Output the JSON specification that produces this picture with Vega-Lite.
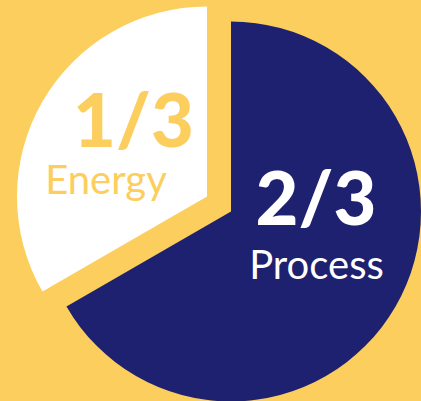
{
  "$schema": "https://vega.github.io/schema/vega-lite/v6.json",
  "width": 421,
  "height": 401,
  "autosize": {"type": "fit", "contains": "padding"},
  "padding": 0,
  "background": "#FCCE5D",
  "view": {"stroke": null},
  "data": {"values": [
    {"part": "Process", "value": 2, "fraction": "2/3"},
    {"part": "Energy", "value": 1, "fraction": "1/3"}
  ]},
  "layer": [
    {
      "mark": {"type": "arc", "radius": 190, "xOffset": 20.5, "yOffset": 11.5},
      "encoding": {
        "theta": {"field": "value", "type": "quantitative", "stack": true},
        "order": {"field": "value", "type": "quantitative", "sort": "descending"},
        "color": {"field": "part", "type": "nominal", "scale": {"domain": ["Process", "Energy"], "range": ["#1E2170", "#FFFFFF"]}, "legend": null},
        "opacity": {"condition": {"test": "datum.part === 'Process'", "value": 1}, "value": 0}
      }
    },
    {
      "mark": {"type": "arc", "radius": 190, "xOffset": -3.5, "yOffset": -3.5},
      "encoding": {
        "theta": {"field": "value", "type": "quantitative", "stack": true},
        "order": {"field": "value", "type": "quantitative", "sort": "descending"},
        "color": {"field": "part", "type": "nominal", "scale": {"domain": ["Process", "Energy"], "range": ["#1E2170", "#FFFFFF"]}, "legend": null},
        "opacity": {"condition": {"test": "datum.part === 'Energy'", "value": 1}, "value": 0}
      }
    },
    {
      "transform": [{"filter": "datum.part === 'Energy'"}],
      "mark": {"type": "text", "x": 133.5, "y": 147, "align": "center", "baseline": "alphabetic", "font": "Lato", "fontWeight": 900, "fontSize": 74, "color": "#FCCE5D"},
      "encoding": {"text": {"field": "fraction"}}
    },
    {
      "transform": [{"filter": "datum.part === 'Energy'"}],
      "mark": {"type": "text", "x": 106, "y": 194, "align": "center", "baseline": "alphabetic", "font": "Lato", "fontSize": 40, "color": "#FCCE5D"},
      "encoding": {"text": {"field": "part"}}
    },
    {
      "transform": [{"filter": "datum.part === 'Process'"}],
      "mark": {"type": "text", "x": 316, "y": 225, "align": "center", "baseline": "alphabetic", "font": "Lato", "fontWeight": 900, "fontSize": 74, "color": "#FFFFFF"},
      "encoding": {"text": {"field": "fraction"}}
    },
    {
      "transform": [{"filter": "datum.part === 'Process'"}],
      "mark": {"type": "text", "x": 316.5, "y": 279, "align": "center", "baseline": "alphabetic", "font": "Lato", "fontSize": 40, "color": "#FFFFFF"},
      "encoding": {"text": {"field": "part"}}
    }
  ]
}
